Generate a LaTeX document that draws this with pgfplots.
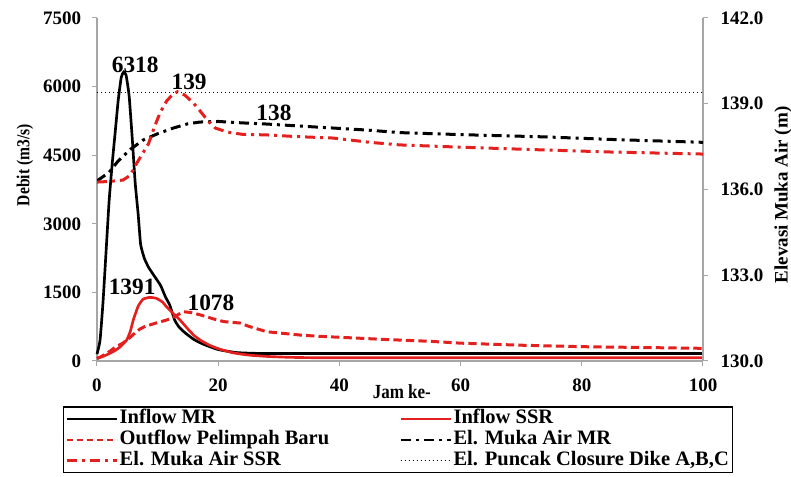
\documentclass[border=0pt]{standalone}
\usepackage{fontspec}
\setmainfont{Liberation Serif}
\newfontfamily\condfont[FakeStretch=0.85]{Liberation Serif}
\usepackage{pgfplots}
\pgfplotsset{compat=1.18}
\definecolor{myred}{RGB}{228,32,30}
\tikzset{
 ddot/.style={dash pattern=on 6pt off 3pt on 1.8pt off 3pt},
 rdash/.style={dash pattern=on 5pt off 2.5pt},
 dotl/.style={dash pattern=on 0.6pt off 1.8pt},
}
\newcommand{\tickfont}{\bfseries\fontsize{11.4}{12}\selectfont}
\newcommand{\annfont}{\bfseries\fontsize{14}{15}\selectfont}
\begin{document}
\begin{tikzpicture}
\path[use as bounding box] (-58.2pt,-69.6pt) rectangle (416.4pt,216.6pt);
\begin{axis}[
 scale only axis, width=363.6pt, height=205.8pt,
 xmin=0, xmax=100, ymin=0, ymax=7500,
 axis x line*=bottom, axis y line*=left,
 axis line style={gray!70, line width=0.8pt, -},
 xtick={0,20,...,100}, ytick={0,1500,...,7500},
 tick style={gray!70, line width=0.6pt},
 major tick length=3pt, tick align=outside,
 /pgf/number format/assume math mode=true,
 /pgf/number format/1000 sep={},
 tick label style={font=\tickfont},
 xticklabel style={yshift=-4pt},
 yticklabel style={xshift=-3pt},
 every axis y label/.style={at={(rel axis cs:-0.119,0.571)}, rotate=90, anchor=center},
 every axis x label/.style={at={(rel axis cs:0.503,-0.090)}, anchor=center},
 ylabel={\condfont\bfseries\fontsize{11}{12}\selectfont Debit (m3/s)},
 xlabel={\condfont\bfseries\fontsize{12}{12}\selectfont Jam ke-},
 clip=false,
]
% Inflow MR
\addplot[black, line width=1.6pt, smooth, tension=0.3] coordinates {
(0,150) (0.5,450) (1,1300) (1.5,2400) (2,3500) (2.5,4300) (3,5000) (3.5,5700)
(4,6200) (4.4,6318) (4.8,6250) (5.3,5800) (5.8,4900) (6.3,3900) (6.8,3200)
(7.2,2550) (7.8,2250) (8.5,2050) (9.5,1850) (10.5,1650) (11.3,1400) (12,1225)
(12.8,900) (13.5,750) (14.5,620) (16,470) (17.5,370) (20,250) (23,185) (26,168)
(30,165) (100,165)};
% Inflow SSR
\addplot[myred, line width=1.6pt, smooth, tension=0.3] coordinates {
(0,60) (1,100) (2,160) (3,230) (3.8,306) (4.9,460) (5.5,650) (6,900) (6.8,1200)
(7.6,1350) (8.7,1391) (9.8,1370) (10.8,1290) (11.5,1180) (12.5,1050) (13.7,896)
(15,700) (16,560) (17,460) (18.5,350) (20,270) (22.4,180) (25,130) (28,100)
(32,80) (40,70) (100,70)};
% Outflow Pelimpah Baru
\addplot[myred, line width=1.8pt, rdash] coordinates {
(0,50) (1,120) (2,200) (3,300) (4.3,394) (5.5,520) (6.5,640) (7.1,700) (8,760)
(9,800) (10,840) (11.5,896) (12.5,950) (13.2,1000) (14.2,1078) (15.5,1060)
(17,1010) (18.5,950) (19.8,896) (21,860) (23.6,830) (25,760) (27,680) (28,640)
(31,600) (33.5,568) (36,545) (39,525) (43,500) (47,474) (55,430) (60,390)
(70,345) (80,313) (90,295) (100,277)};
\node[font=\annfont] at (axis cs:6.3,6480) {6318};
\node[font=\annfont] at (axis cs:15.2,6100) {139};
\node[font=\annfont] at (axis cs:29.2,5423) {138};
\node[font=\annfont] at (axis cs:5.8,1618) {1391};
\node[font=\annfont] at (axis cs:18.8,1268) {1078};
\end{axis}
\begin{axis}[
 scale only axis, width=363.6pt, height=205.8pt,
 xmin=0, xmax=100, ymin=130, ymax=142,
 axis x line=none, axis y line*=right,
 axis line style={gray!70, line width=0.8pt, -},
 ytick={130,133,...,142},
 tick style={gray!70, line width=0.6pt},
 major tick length=3pt, tick align=outside,
 /pgf/number format/assume math mode=true,
 /pgf/number format/.cd, fixed, fixed zerofill, precision=1, /pgfplots/.cd,
 tick label style={font=\tickfont},
 yticklabel style={xshift=4pt},
 every axis y label/.style={at={(rel axis cs:1.132,0.484)}, rotate=90, anchor=center},
 ylabel={\bfseries\fontsize{11.4}{12}\selectfont Elevasi Muka Air (m)},
 legend columns=2,
 legend cell align=left,
 legend image code/.code={\draw[#1] (0pt,0pt) -- (30pt,0pt);},
 legend style={at={(rel axis cs:-0.0561,-0.132)}, anchor=north west,
   draw=black, line width=0.8pt, inner sep=1pt, row sep=0pt,
   font=\bfseries\fontsize{12.3}{13}\selectfont,
   /tikz/column 2/.style={column sep=41pt},
   nodes={inner sep=1pt, text height=8.2pt, text depth=2.3pt}},
]
\addlegendimage{black, line width=1.2pt}
\addlegendentry{Inflow MR}
\addlegendimage{myred, line width=1.2pt}
\addlegendentry{Inflow SSR}
\addlegendimage{myred, line width=1.6pt, dash pattern=on 3.6pt off 2.4pt}
\addlegendentry{Outflow Pelimpah Baru}
\addlegendimage{black, line width=1.6pt, ddot}
\addlegendentry{El. Muka Air MR}
\addlegendimage{myred, line width=1.6pt, ddot}
\addlegendentry{El. Muka Air SSR}
\addlegendimage{black, line width=0.6pt, dotl}
\addlegendentry{El. Puncak Closure Dike A,B,C}
% El. Muka Air MR
\addplot[black, line width=1.8pt, ddot, forget plot] coordinates {
(0,136.3) (2,136.6) (3.5,137.0) (5.5,137.4) (7.6,137.73) (10,137.95) (12.6,138.15)
(15,138.3) (17,138.36) (20,138.38) (24,138.33) (28,138.29) (35,138.2) (44.5,138.08)
(50,137.99) (60,137.92) (74,137.84) (85,137.75) (100,137.65)};
% El. Muka Air SSR
\addplot[myred, line width=1.8pt, ddot, forget plot] coordinates {
(0,136.26) (2,136.28) (4.3,136.33) (5.5,136.5) (6.5,136.9) (7.5,137.25) (8.5,137.6)
(9.5,138.2) (10.4,138.68) (11.5,139.1) (12.6,139.35) (13.3,139.42) (14.5,139.3)
(15.9,139.03) (17,138.75) (18.2,138.43) (19.5,138.15) (21.5,138.01) (24,137.93)
(28,137.91) (33,137.85) (39,137.8) (45,137.65) (50,137.56) (60,137.48) (74.3,137.38)
(85,137.31) (100,137.24)};
% El. Puncak Closure Dike
\addplot[black, line width=0.6pt, dotl, forget plot] coordinates {(0,139.4) (100,139.4)};
\end{axis}
\end{tikzpicture}
\end{document}
